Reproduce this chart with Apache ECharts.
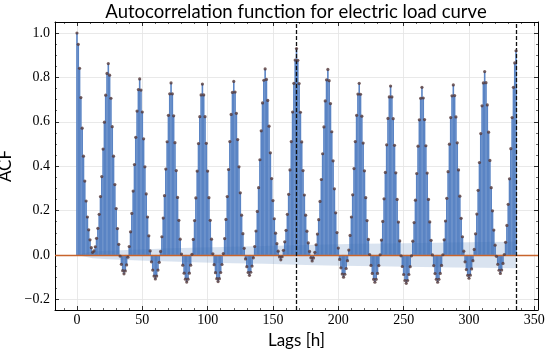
<!DOCTYPE html>
<html>
<head>
<meta charset="utf-8">
<script src="https://cdn.jsdelivr.net/npm/echarts@6/dist/echarts.min.js"></script>
<style>html,body{margin:0;padding:0;background:#fff}#c{width:550px;height:349px}</style>
</head>
<body>
<div id="c"></div>
<script>
// ACF values for lags 0..336
const acfValues = [
 1.000, 0.949, 0.841, 0.709, 0.571, 0.445, 0.333, 0.243, 0.171, 0.113, 0.068, 0.033, 0.012,
 0.018, 0.037, 0.075, 0.120, 0.183, 0.263, 0.353, 0.477, 0.598, 0.720, 0.818, 0.862,
 0.810, 0.706, 0.578, 0.445, 0.317, 0.209, 0.119, 0.048, -0.005, -0.042, -0.071, -0.085,
 -0.072, -0.045, -0.010, 0.038, 0.104, 0.187, 0.288, 0.407, 0.530, 0.648, 0.745, 0.793,
 0.743, 0.644, 0.523, 0.397, 0.275, 0.171, 0.086, 0.018, -0.031, -0.068, -0.095, -0.108,
 -0.095, -0.068, -0.033, 0.016, 0.082, 0.166, 0.267, 0.387, 0.510, 0.629, 0.726, 0.775,
 0.726, 0.627, 0.506, 0.380, 0.259, 0.156, 0.071, 0.004, -0.046, -0.082, -0.109, -0.122,
 -0.109, -0.082, -0.046, 0.003, 0.070, 0.155, 0.257, 0.378, 0.502, 0.623, 0.721, 0.770,
 0.721, 0.623, 0.503, 0.378, 0.258, 0.156, 0.071, 0.005, -0.044, -0.080, -0.107, -0.120,
 -0.107, -0.079, -0.043, 0.006, 0.074, 0.160, 0.263, 0.385, 0.511, 0.633, 0.732, 0.782,
 0.734, 0.638, 0.520, 0.397, 0.280, 0.179, 0.096, 0.030, -0.018, -0.053, -0.079, -0.092,
 -0.078, -0.050, -0.013, 0.038, 0.108, 0.196, 0.303, 0.429, 0.559, 0.685, 0.787, 0.838,
 0.791, 0.696, 0.580, 0.460, 0.344, 0.245, 0.163, 0.098, 0.051, 0.017, -0.009, -0.022,
 -0.008, 0.021, 0.059, 0.111, 0.183, 0.273, 0.383, 0.511, 0.644, 0.773, 0.878, 0.930,
 0.877, 0.772, 0.643, 0.509, 0.380, 0.270, 0.179, 0.107, 0.054, 0.016, -0.013, -0.027,
 -0.014, 0.012, 0.046, 0.094, 0.159, 0.241, 0.340, 0.456, 0.577, 0.694, 0.789, 0.836,
 0.785, 0.682, 0.555, 0.424, 0.298, 0.190, 0.101, 0.031, -0.020, -0.058, -0.086, -0.100,
 -0.087, -0.061, -0.026, 0.022, 0.088, 0.171, 0.271, 0.389, 0.511, 0.629, 0.725, 0.773,
 0.724, 0.625, 0.504, 0.379, 0.258, 0.155, 0.070, 0.002, -0.047, -0.083, -0.110, -0.123,
 -0.110, -0.083, -0.048, 0.001, 0.067, 0.151, 0.253, 0.372, 0.496, 0.615, 0.712, 0.761,
 0.712, 0.614, 0.494, 0.370, 0.250, 0.148, 0.063, -0.004, -0.052, -0.088, -0.115, -0.128,
 -0.115, -0.088, -0.053, -0.004, 0.062, 0.146, 0.247, 0.367, 0.490, 0.609, 0.706, 0.755,
 0.707, 0.610, 0.492, 0.369, 0.250, 0.149, 0.066, 0.000, -0.048, -0.084, -0.110, -0.123,
 -0.110, -0.083, -0.047, 0.001, 0.068, 0.153, 0.255, 0.375, 0.499, 0.619, 0.717, 0.766,
 0.718, 0.622, 0.505, 0.383, 0.265, 0.165, 0.082, 0.017, -0.031, -0.066, -0.092, -0.105,
 -0.091, -0.063, -0.026, 0.025, 0.095, 0.184, 0.291, 0.416, 0.547, 0.672, 0.775, 0.826,
 0.776, 0.676, 0.553, 0.426, 0.303, 0.199, 0.112, 0.044, -0.006, -0.042, -0.069, -0.083,
 -0.068, -0.038, 0.002, 0.057, 0.133, 0.228, 0.343, 0.479, 0.619, 0.755, 0.865, 0.920
];
const lags = acfValues.map((v, i) => i);

// confidence band (half width) at selected lags
const bandLags = [0, 1, 12, 24, 48, 72, 96, 120, 144, 168, 192, 216, 240, 264, 288, 312, 336];
const bandHalf = [0.0, 0.006, 0.015, 0.019, 0.025, 0.030, 0.034, 0.037, 0.040, 0.044, 0.047, 0.050, 0.052, 0.054, 0.056, 0.058, 0.060];

// vertical reference lines (one week, two weeks)
const weekLines = [168, 336];

const xTickStep = 50, yTickStep = 0.2;

const chart = echarts.init(document.getElementById('c'), null, {renderer: 'canvas'});
const serif = 'Liberation Serif';
const sans = 'Lato';
const minus = v => (v < 0 ? '\u2212' : '') + Math.abs(v).toFixed(1);

const xCommon = {
  type: 'value', min: -16.8, max: 352.8, minInterval: xTickStep, maxInterval: xTickStep,
  axisLine: {show: true, onZero: false, lineStyle: {color: '#000', width: 1}},
  axisTick: {show: true, inside: true, length: 4, lineStyle: {color: '#000', width: 0.8}},
  minorTick: {show: true, splitNumber: 5, length: 2, lineStyle: {color: '#000', width: 0.6}}
};
const yCommon = {
  type: 'value', min: -0.248, max: 1.0495, minInterval: yTickStep, maxInterval: yTickStep,
  axisLine: {show: true, onZero: false, lineStyle: {color: '#000', width: 1}},
  axisTick: {show: true, inside: true, length: 4, lineStyle: {color: '#000', width: 0.8}},
  minorTick: {show: true, splitNumber: 4, length: 2, lineStyle: {color: '#000', width: 0.6}}
};

chart.setOption({
  animation: false,
  backgroundColor: '#fff',
  title: {
    text: 'Autocorrelation function for electric load curve',
    left: 291, top: -2, textAlign: 'center',
    textStyle: {fontFamily: sans, fontSize: 18.5, fontWeight: 'normal', color: '#000'}
  },
  grid: {left: 55, right: 12, top: 22, bottom: 39, containLabel: false, outerBoundsMode: 'none'},
  xAxis: [
    Object.assign({}, xCommon, {
      position: 'bottom',
      name: 'Lags [h]', nameLocation: 'middle', nameGap: 18,
      nameTextStyle: {fontFamily: sans, fontSize: 17, color: '#000'},
      axisLabel: {show: true, fontFamily: serif, fontSize: 14, color: '#000', margin: 3,
                  showMinLabel: false, showMaxLabel: false, formatter: v => String(v)},
      splitLine: {show: true, lineStyle: {color: '#e3e3e3', width: 0.8}}
    }),
    Object.assign({}, xCommon, {
      position: 'top', axisLabel: {show: false}, splitLine: {show: false}
    })
  ],
  yAxis: [
    Object.assign({}, yCommon, {
      position: 'left',
      name: 'ACF', nameLocation: 'middle', nameGap: 29, nameRotate: 90,
      nameTextStyle: {fontFamily: sans, fontSize: 17, color: '#000'},
      axisLabel: {show: true, fontFamily: serif, fontSize: 14, color: '#000', margin: 5,
                  showMinLabel: false, showMaxLabel: false, formatter: minus},
      splitLine: {show: true, lineStyle: {color: '#e3e3e3', width: 0.8}}
    }),
    Object.assign({}, yCommon, {
      position: 'right', axisLabel: {show: false}, splitLine: {show: false}
    })
  ],
  series: [
    {
      type: 'bar', xAxisIndex: 0, yAxisIndex: 0, z: 2,
      barWidth: 1.6,
      itemStyle: {color: '#5a84c4'},
      data: lags.map((l, i) => [l, acfValues[i]])
    },
    {
      type: 'line', xAxisIndex: 0, yAxisIndex: 0, z: 3, symbol: 'none', silent: true,
      lineStyle: {opacity: 0},
      areaStyle: {color: 'rgba(60,110,180,0.28)', origin: 0},
      data: bandLags.map((l, i) => [l, bandHalf[i]])
    },
    {
      type: 'line', xAxisIndex: 0, yAxisIndex: 0, z: 3, symbol: 'none', silent: true,
      lineStyle: {opacity: 0},
      areaStyle: {color: 'rgba(60,110,180,0.28)', origin: 0},
      data: bandLags.map((l, i) => [l, -bandHalf[i]])
    },
    {
      type: 'line', xAxisIndex: 0, yAxisIndex: 0, z: 4, data: [], silent: true,
      markLine: {
        silent: true, symbol: 'none', label: {show: false},
        data: [{yAxis: 0, lineStyle: {color: '#c8642c', width: 1.4, type: 'solid'}}]
      }
    },
    {
      type: 'scatter', xAxisIndex: 0, yAxisIndex: 0, z: 5,
      symbolSize: 3.2,
      itemStyle: {color: '#553838'},
      data: lags.map((l, i) => [l, acfValues[i]])
    },
    {
      type: 'line', xAxisIndex: 0, yAxisIndex: 0, z: 6, data: [], silent: true,
      markLine: {
        silent: true, symbol: 'none', label: {show: false},
        lineStyle: {color: '#111', width: 1.3, type: [4, 2]},
        data: weekLines.map(v => ({xAxis: v}))
      }
    }
  ]
});
</script>
</body>
</html>
